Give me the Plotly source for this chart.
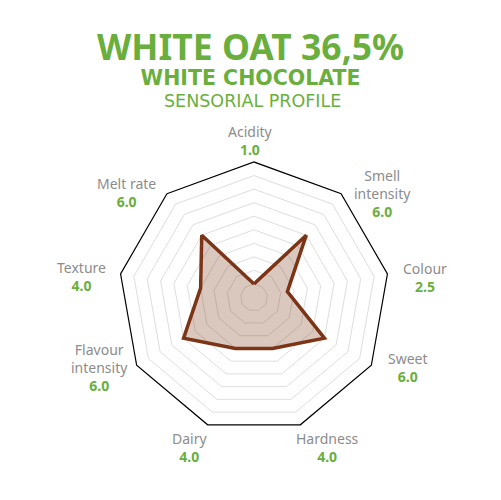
import plotly.graph_objects as go

### Data

categories = ['Acidity', 'Smell intensity', 'Colour', 'Sweet', 'Hardness',
              'Dairy', 'Flavour intensity', 'Texture', 'Melt rate']
label_names = ['Acidity', 'Smell<br>intensity', 'Colour', 'Sweet', 'Hardness',
               'Dairy', 'Flavour<br>intensity', 'Texture', 'Melt rate']
values = [1.0, 6.0, 2.5, 6.0, 4.0, 4.0, 6.0, 4.0, 6.0]

title_lines = ['WHITE OAT 36,5%', 'WHITE CHOCOLATE', 'SENSORIAL PROFILE']

### Layout helpers (pixels of the screenshot)

W, H = 501, 500
OFF = 8  # page body margin pushes the figure 8px right/down
green = '#6aaf3d'
grey = '#8c8c8c'
brown = '#7b3516'
label_font = 'Noto Sans, Open Sans, sans-serif'
title_font = 'DejaVu Sans, Verdana, sans-serif'

cx, cy, rad = 254 - OFF, 297.5 - OFF, 135.5

def paper(px, py):
    return (px - OFF) / W, 1 - (py - OFF) / H

# label centre positions on screen, same order as categories
label_pos = [(250, 140), (382, 193), (425, 277), (407.5, 367), (327, 447.5),
             (189, 447.5), (99, 367), (81, 276), (126, 192)]

fig = go.Figure()
fig.add_trace(go.Scatterpolar(
    r=values + values[:1],
    theta=categories + categories[:1],
    mode='lines',
    fill='toself',
    fillcolor='rgba(123,53,22,0.28)',
    line=dict(color=brown, width=3.5),
    hoverinfo='skip'
    ))

fig.update_layout(
    width=W, height=H,
    margin=dict(l=0, r=0, t=0, b=0),
    paper_bgcolor='white',
    showlegend=False,
    font=dict(family=label_font),
    polar=dict(
        domain=dict(x=[(cx - rad) / W, (cx + rad) / W],
                    y=[(H - cy - rad) / H, (H - cy + rad) / H]),
        gridshape='linear',
        bgcolor='white',
        radialaxis=dict(range=[0, 10], dtick=1, showticklabels=False,
                        ticks='', showline=False, gridcolor='#dedede',
                        gridwidth=1),
        angularaxis=dict(rotation=90, direction='clockwise',
                         showticklabels=False, ticks='', showgrid=False,
                         linecolor='black', linewidth=1.2)
        )
    )

### Labels

for name, val, (px, py) in zip(label_names, values, label_pos):
    x, y = paper(px, py)
    fig.add_annotation(
        x=x, y=y, xref='paper', yref='paper',
        xanchor='center', yanchor='middle', align='center', showarrow=False,
        text=f"<span style='color:{grey}'>{name}</span><br>"
             f"<b><span style='color:{green}'>{val:.1f}</span></b>",
        font=dict(size=14, family=label_font)
        )

### Title (first two lines share one text block so they sit tight together)

x, y = paper(250.5, 56)
fig.add_annotation(
    x=x, y=y, xref='paper', yref='paper',
    xanchor='center', yanchor='middle', align='center', showarrow=False,
    text=f"<span style='font-family:Noto Sans;font-size:35.5px;font-weight:bold'>{title_lines[0]}</span><br>"
         f"<span style='font-family:DejaVu Sans;font-size:20.5px;font-weight:bold'>{title_lines[1]}</span>",
    font=dict(size=19.3, color=green, family=label_font)
    )

x, y = paper(252, 100.5)
fig.add_annotation(
    x=x, y=y, xref='paper', yref='paper',
    xanchor='center', yanchor='middle', showarrow=False,
    text=title_lines[2],
    font=dict(size=17.5, color=green, family=title_font)
    )

fig.write_html('out.html')
